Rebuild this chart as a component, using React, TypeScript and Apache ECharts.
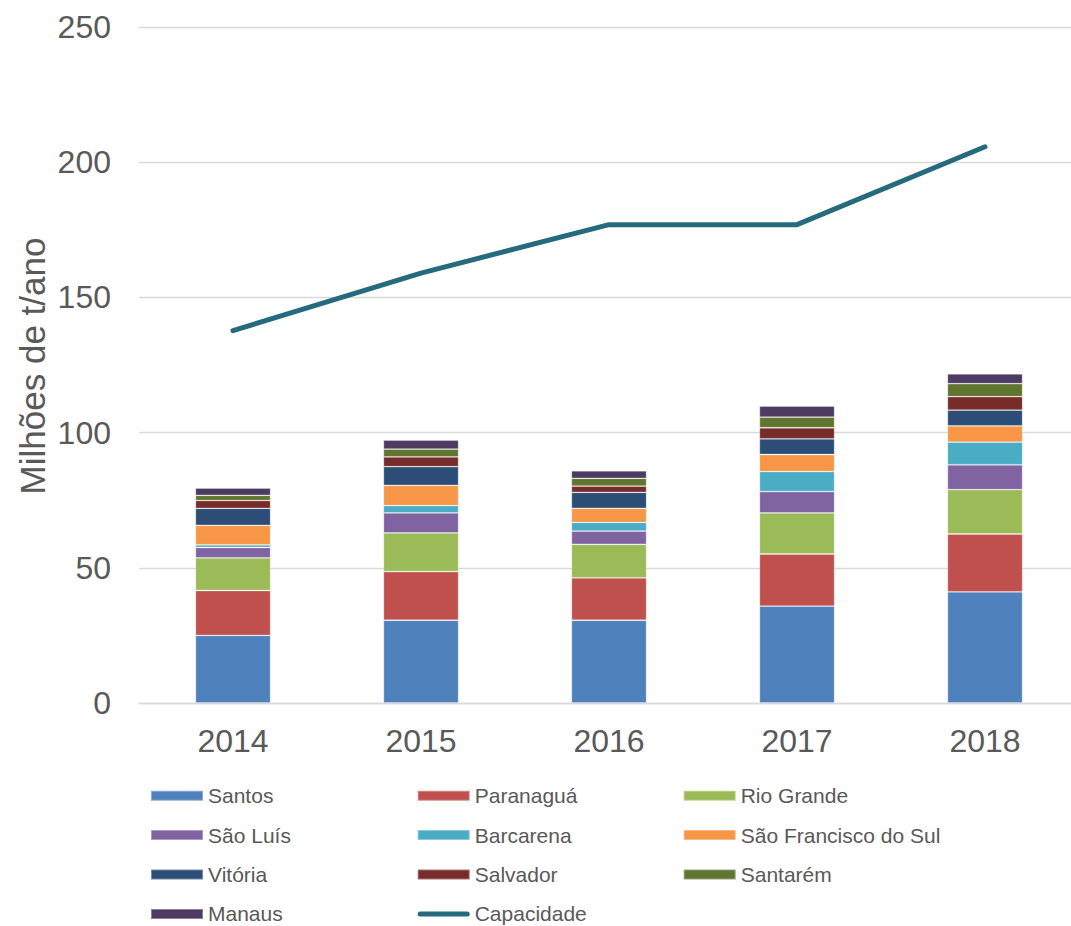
import React, { useEffect, useRef } from "react";
import * as echarts from "echarts";

const years = ["2014", "2015", "2016", "2017", "2018"];
const santos = [25.0, 30.6, 30.6, 35.8, 41.1];
const paranagua = [16.6, 18.0, 15.7, 19.3, 21.4];
const rioGrande = [12.1, 14.3, 12.4, 15.2, 16.4];
const saoLuis = [3.8, 7.4, 4.9, 7.9, 9.2];
const barcarena = [1.0, 2.7, 3.2, 7.4, 8.4];
const saoFrancisco = [7.2, 7.5, 5.2, 6.3, 6.0];
const vitoria = [6.3, 6.9, 5.9, 5.8, 5.8];
const salvador = [2.9, 3.6, 2.3, 4.1, 5.0];
const santarem = [1.9, 2.9, 2.9, 3.9, 4.8];
const manaus = [2.7, 3.3, 2.8, 4.1, 3.6];
const capacidade = [137.7, 159.0, 176.9, 176.9, 205.7];

const barSeries = [
  { name: "Santos", data: santos, color: "#4F81BD" },
  { name: "Paranaguá", data: paranagua, color: "#C0504D" },
  { name: "Rio Grande", data: rioGrande, color: "#9BBB59" },
  { name: "São Luís", data: saoLuis, color: "#8064A2" },
  { name: "Barcarena", data: barcarena, color: "#4BACC6" },
  { name: "São Francisco do Sul", data: saoFrancisco, color: "#F79646" },
  { name: "Vitória", data: vitoria, color: "#2C4D75" },
  { name: "Salvador", data: salvador, color: "#772C2A" },
  { name: "Santarém", data: santarem, color: "#5F7530" },
  { name: "Manaus", data: manaus, color: "#4D3B62" },
];

const FONT = "'Liberation Sans', Arial, sans-serif";
const TXT = "#595959";

const lineIcon =
  "path://M2.5,0 L49.5,0 A2.5,2.5 0 0 1 49.5,5 L2.5,5 A2.5,2.5 0 0 1 2.5,0 Z";

export default function App() {
  const ref = useRef<HTMLDivElement>(null);
  useEffect(() => {
    if (!ref.current) return;
    const chart = echarts.init(ref.current, undefined, { renderer: "svg" });
    const legendCommon = {
      orient: "vertical" as const,
      top: 783.7,
      height: 200,
      padding: 0,
      itemWidth: 52,
      itemHeight: 10,
      itemGap: 15.4,
      icon: "rect",
      textStyle: { fontFamily: FONT, fontSize: 21, color: TXT, lineHeight: 24 },
    };
    chart.setOption({
      animation: false,
      textStyle: { fontFamily: FONT },
      grid: { left: 139, right: 0, top: 27, bottom: 223, containLabel: false },
      xAxis: {
        type: "category",
        data: years,
        axisLine: { show: true, lineStyle: { color: "#D9D9D9", width: 1.3 } },
        axisTick: { show: false },
        axisLabel: { fontFamily: FONT, fontSize: 32, color: TXT, margin: 22 },
      },
      yAxis: {
        type: "value",
        min: 0,
        max: 250,
        interval: 50,
        axisLine: { show: false },
        axisTick: { show: false },
        splitLine: { lineStyle: { color: "#D9D9D9", width: 1.3 } },
        axisLabel: { fontFamily: FONT, fontSize: 32, color: TXT, margin: 28 },
      },
      legend: [
        { ...legendCommon, left: 150, data: ["Santos", "São Luís", "Vitória", "Manaus"] },
        {
          ...legendCommon,
          left: 416.7,
          data: ["Paranaguá", "Barcarena", "Salvador", { name: "Capacidade", icon: lineIcon }],
        },
        { ...legendCommon, left: 682.7, data: ["Rio Grande", "São Francisco do Sul", "Santarém"] },
      ],
      graphic: [
        {
          type: "text",
          x: 32,
          y: 366,
          rotation: Math.PI / 2,
          style: {
            text: "Milhões de t/ano",
            fontFamily: FONT,
            fontSize: 35,
            fill: TXT,
            align: "center",
            verticalAlign: "middle",
          },
        },
      ],
      series: [
        ...barSeries.map((s) => ({
          name: s.name,
          type: "bar",
          stack: "total",
          barWidth: "40%",
          data: s.data,
          itemStyle: { color: s.color, borderColor: "rgba(255,255,255,0.35)", borderWidth: 0.8 },
        })),
        {
          name: "Capacidade",
          type: "line",
          data: capacidade,
          symbol: "none",
          lineStyle: { color: "#256B7D", width: 5, cap: "round", join: "round" },
          itemStyle: { color: "#256B7D" },
        },
      ],
    });
    return () => chart.dispose();
  }, []);
  return (
    <div
      ref={ref}
      style={{ position: "fixed", left: 0, top: 0, width: 1079, height: 926, background: "#fff" }}
    />
  );
}
